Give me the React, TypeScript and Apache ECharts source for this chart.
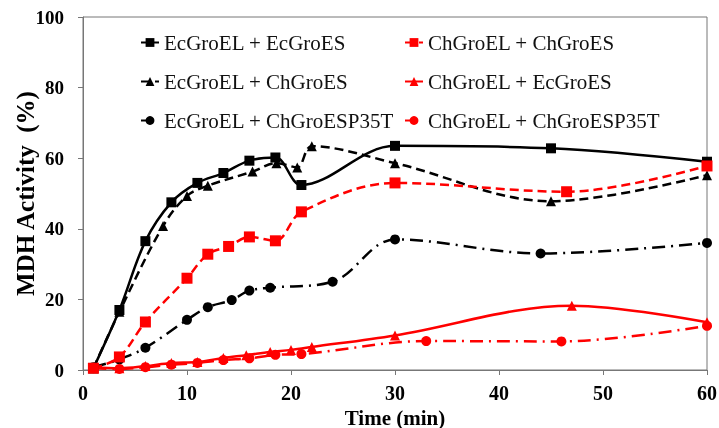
import React, { useEffect, useRef } from "react";
import * as echarts from "echarts";

const ecEcX = [1, 3.5, 6, 8.5, 11, 13.5, 16, 18.5, 21, 30, 45, 60];
const ecEcY = [0.5, 17, 36.5, 47.5, 53, 55.8, 59.3, 60.2, 52.4, 63.5, 62.8, 59];

const ecChX = [1, 3.5, 7.7, 10, 12, 16.3, 18.6, 20.6, 22, 30, 45, 60];
const ecChY = [0.5, 16.5, 40.8, 49.3, 52.2, 56.2, 58.6, 57.4, 63.4, 58.6, 47.8, 55.2];

const ecP35X = [1, 3.5, 6, 10, 12, 14.3, 16, 18, 24, 30, 44, 60];
const ecP35Y = [0.8, 3, 6.3, 14.2, 17.8, 19.8, 22.5, 23.3, 25, 37, 33, 36];

const chChX = [1, 3.5, 6, 10, 12, 14, 16, 18.5, 21, 30, 46.5, 60];
const chChY = [0.5, 3.7, 13.6, 26, 32.8, 35, 37.7, 36.6, 44.8, 53, 50.5, 57.8];

const chEcX = [1, 3.5, 6, 8.5, 11, 13.5, 15.7, 18, 20, 22, 30, 47, 60];
const chEcY = [0.8, 0.5, 1.1, 2, 2.3, 3.4, 4.2, 5.1, 5.7, 6.5, 9.8, 18.2, 13.5];

const chP35X = [1, 3.5, 6, 8.5, 11, 13.5, 16, 18.5, 21, 33, 46, 60];
const chP35Y = [0.5, 0.3, 0.8, 1.5, 2, 2.8, 3.3, 4.3, 4.5, 8.2, 8.1, 12.5];

const names = [
  "EcGroEL + EcGroES",
  "EcGroEL + ChGroES",
  "EcGroEL + ChGroESP35T",
  "ChGroEL + ChGroES",
  "ChGroEL + EcGroES",
  "ChGroEL + ChGroESP35T",
];

const xTicks = [0, 10, 20, 30, 40, 50, 60];
const yTicks = [0, 20, 40, 60, 80, 100];

const zip = (xs: number[], ys: number[]) => xs.map((x, i) => [x, ys[i]]);

const FONT = "Liberation Serif";

export default function App() {
  const ref = useRef<HTMLDivElement>(null);
  useEffect(() => {
    if (!ref.current) return;
    const chart = echarts.init(ref.current, undefined, { renderer: "svg" });
    const mk = (
      name: string,
      data: number[][],
      color: string,
      symbol: string,
      size: number,
      type: any,
      smooth: number
    ) => ({
      name,
      type: "line",
      data,
      smooth,
      symbol,
      symbolSize: size,
      itemStyle: { color },
      lineStyle: { color, width: 2.5, type },
      z: 3,
    });
    const dash = [9, 5];
    const dashDot = [13, 6, 2, 6];
    const legendText = { fontFamily: FONT, fontSize: 21, color: "#111" };
    chart.setOption({
      animation: false,
      textStyle: { fontFamily: FONT },
      grid: {
        left: 83,
        right: 12,
        top: 17,
        bottom: 58,
        show: true,
        borderColor: "#777",
        borderWidth: 1,
        outerBoundsMode: "none",
        containLabel: false,
      },
      legend: [
        {
          data: names.slice(0, 3),
          orient: "vertical",
          left: 135,
          top: 27,
          itemGap: 18,
          itemWidth: 18,
          itemHeight: 11,
          textStyle: legendText,
        },
        {
          data: names.slice(3),
          orient: "vertical",
          left: 399,
          top: 27,
          itemGap: 18,
          itemWidth: 18,
          itemHeight: 11,
          textStyle: legendText,
        },
      ],
      xAxis: {
        type: "value",
        min: xTicks[0],
        max: xTicks[xTicks.length - 1],
        interval: 10,
        name: "Time (min)",
        nameLocation: "middle",
        nameGap: 37,
        nameMoveOverlap: false,
        nameTextStyle: { fontFamily: FONT, fontSize: 21, fontWeight: "bold", color: "#000" },
        axisLine: { lineStyle: { color: "#777" } },
        axisTick: { show: true, lineStyle: { color: "#777" }, length: 5 },
        axisLabel: { fontFamily: FONT, fontSize: 20, fontWeight: "bold", color: "#000", margin: 13 },
        splitLine: { show: false },
      },
      yAxis: {
        type: "value",
        min: yTicks[0],
        max: yTicks[yTicks.length - 1],
        interval: 20,
        name: "MDH Activity  (%)",
        nameLocation: "middle",
        nameGap: 45,
        nameMoveOverlap: false,
        nameTextStyle: { fontFamily: FONT, fontSize: 25, fontWeight: "bold", color: "#000" },
        axisLine: { show: true, lineStyle: { color: "#777" } },
        axisTick: { show: true, lineStyle: { color: "#777" }, length: 5 },
        axisLabel: { fontFamily: FONT, fontSize: 19, fontWeight: "bold", color: "#000", margin: 19 },
        splitLine: { show: false },
      },
      series: [
        mk(names[0], zip(ecEcX, ecEcY), "#000", "rect", 10, "solid", 0.35),
        mk(names[1], zip(ecChX, ecChY), "#000", "triangle", 10, dash, 0.35),
        mk(names[2], zip(ecP35X, ecP35Y), "#000", "circle", 10, dashDot, 0.35),
        mk(names[3], zip(chChX, chChY), "#f00", "rect", 11, dash, 0.35),
        mk(names[4], zip(chEcX, chEcY), "#f00", "triangle", 10, "solid", 0.35),
        mk(names[5], zip(chP35X, chP35Y), "#f00", "circle", 10, dashDot, 0.35),
      ],
    });
    return () => chart.dispose();
  }, []);
  return (
    <div
      ref={ref}
      style={{ position: "fixed", left: 0, top: 0, width: 719, height: 428 }}
    />
  );
}
